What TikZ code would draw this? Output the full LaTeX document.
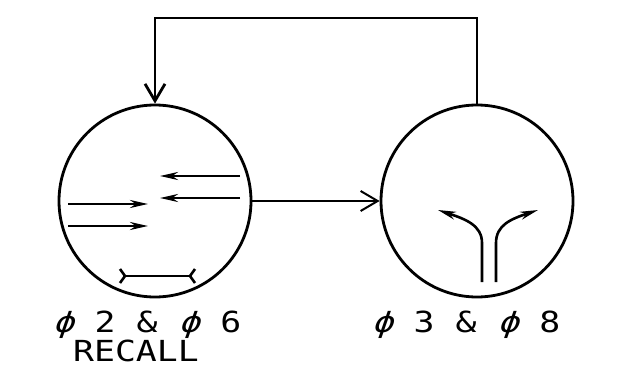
\documentclass[tikz,border=0pt]{standalone}
\usepackage{fontspec}
\newfontfamily\platefont[FakeStretch=1.2]{DejaVu Sans Mono}
\newfontfamily\phasefont[FakeStretch=1.2,FakeSlant=0.35]{DejaVu Sans Mono}
\newcommand{\phs}{{\phasefont ϕ}}
\usetikzlibrary{arrows.meta}

\begin{document}
\begin{tikzpicture}[x=1pt,y=-1pt,
    disc/.style={draw, circle, line width=2.8pt, minimum size=192pt, inner sep=0pt},
    flow/.style={line width=2pt, -{Straight Barb[length=17pt,width=20pt]}},
    push/.style={line width=2.6pt, -{Stealth[length=18pt,width=8pt]}},
    lbl/.style={font=\platefont\fontsize{29}{29}\selectfont, anchor=base, inner sep=0pt}]
    %%%%% START %%%%%
    \useasboundingbox (0,0) rectangle (623,380);

    \node[disc] (recallDisc) at (155, 201) {};
    \node[disc] (splitDisc) at (477, 201) {};
    \coordinate (loopTop) at (155, 18);

    \draw[flow, line width=2.8pt] (splitDisc.north) |- (loopTop) -- (recallDisc.north);
    \draw[flow] (recallDisc.east) -- (splitDisc.west);

    % inside the left disc
    \draw[push] (240, 176) -- (160, 176);
    \draw[push] (240, 198) -- (160, 198);
    \draw[push] (68, 204) -- (148, 204);
    \draw[push] (68, 226) -- (148, 226);
    \draw[line width=2.6pt] (125, 276) -- (190, 276);
    \draw[line width=2.6pt] (120, 269) -- (125, 276) -- (120, 283);
    \draw[line width=2.6pt] (195, 269) -- (190, 276) -- (195, 283);

    % inside the right disc
    \draw[push] (482, 282) -- (482, 243) .. controls (482, 225) and (465, 219) .. (438, 210);
    \draw[push] (496, 282) -- (496, 243) .. controls (496, 225) and (511, 219) .. (538, 210);

    \node[lbl] (phase26) at (147, 332) {\phs{} 2 \& \phs{} 6};
    \node[lbl] (recallText) at (136, 361) {RECALL};
    \node[lbl] (phase38) at (466, 332) {\phs{} 3 \& \phs{} 8};
    %%%%% END %%%%%
\end{tikzpicture}
\end{document}
